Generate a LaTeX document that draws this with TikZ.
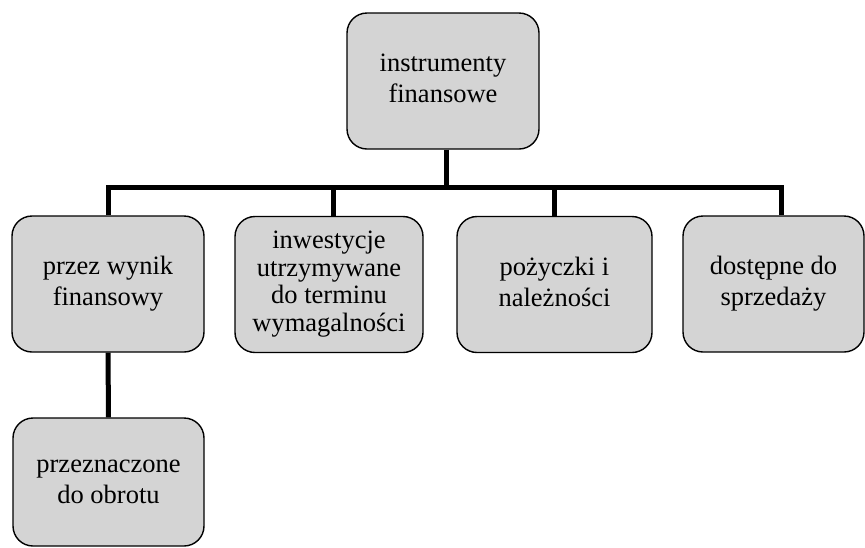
\documentclass[tikz,border=0pt]{standalone}
\usepackage{fontspec}
\setmainfont{Liberation Serif}
% centred stack of lines, lowered a little inside its box
\newcommand{\boxlines}[2][-3.5pt]{\raisebox{#1}{\begin{tabular}{@{}c@{}}#2\end{tabular}}}
\begin{document}
\begin{tikzpicture}[x=1pt,y=-1pt,
  box/.style={draw=black, line width=1.4pt, fill=black!17, rounded corners=20pt,
    inner sep=2pt, font=\fontsize{26.5}{31}\selectfont},
  link/.style={line width=5pt, line cap=butt}
]
\useasboundingbox (0,0) rectangle (865,547);

% top node
\node[box, minimum width=192pt, minimum height=136pt] (root) at (443,81)
  {\boxlines{instrumenty\\finansowe}};

% second level
\node[box, minimum width=192pt, minimum height=136pt] (wynik) at (108,284)
  {\boxlines{przez wynik\\finansowy}};
\node[box, minimum width=188pt, minimum height=136pt,
  font=\fontsize{26.5}{27.5}\selectfont] (inwest) at (329,284.5)
  {\boxlines[-1pt]{inwestycje\\utrzymywane\\do terminu\\wymagalności}};
\node[box, minimum width=195pt, minimum height=136pt] (pozycz) at (554.5,284.5)
  {\boxlines[-5pt]{pożyczki i\\należności}};
\node[box, minimum width=181pt, minimum height=136pt] (dostep) at (773.5,284)
  {\boxlines[-5pt]{dostępne do\\sprzedaży}};

% third level
\node[box, minimum width=191pt, minimum height=128pt] (obrot) at (108.5,482)
  {\boxlines{przeznaczone\\do obrotu}};

% connectors
\coordinate (bar) at (443,187);
\coordinate (dtop) at ([xshift=7.5pt]dostep.north);
\coordinate (btop) at ([xshift=4pt]inwest.north);
\coordinate (rbot) at ([xshift=3pt]root.south);
\draw[link, line cap=rect] (wynik.north |- bar) -- (dtop |- bar);
\draw[link] (rbot) -- (rbot |- bar);
\draw[link] (wynik.north) -- (wynik.north |- bar);
\draw[link] (btop) -- (btop |- bar);
\draw[link] (pozycz.north) -- (pozycz.north |- bar);
\draw[link] (dtop) -- (dtop |- bar);
\draw[link] (wynik.south) -- (obrot.north);
\end{tikzpicture}
\end{document}
